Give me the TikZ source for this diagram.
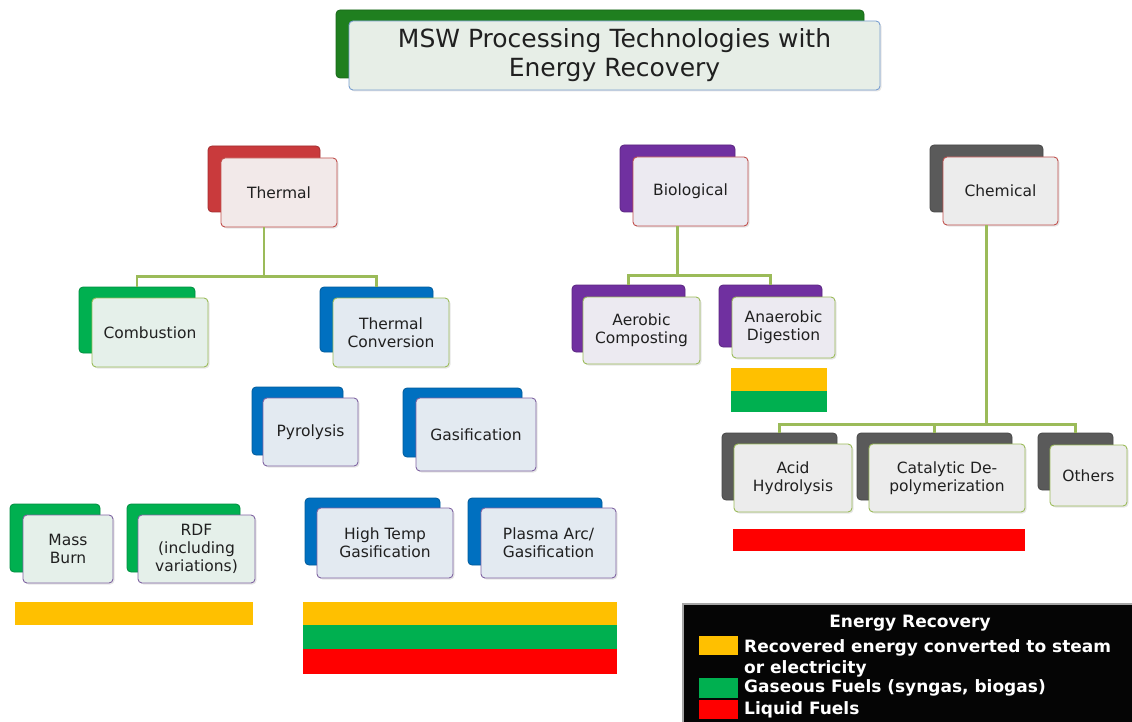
\documentclass[tikz,border=0pt]{standalone}
\usepackage{fontspec}
\setmainfont{DejaVu Sans}
\usetikzlibrary{positioning,shadows}

\definecolor{linkgreen}{HTML}{9BBB59}
\definecolor{titlegreen}{HTML}{1F7F1F}
\definecolor{combgreen}{HTML}{00B050}
\definecolor{thermred}{HTML}{C93A3C}
\definecolor{biopurple}{HTML}{7030A0}
\definecolor{chemgray}{HTML}{5A5A5A}
\definecolor{convblue}{HTML}{0070C0}
\definecolor{edgeblue}{HTML}{7A9FD0}
\definecolor{edgered}{HTML}{C0504D}
\definecolor{edgegreen}{HTML}{9BBB59}
\definecolor{edgepurple}{HTML}{8064A2}
\definecolor{titlefill}{HTML}{E7EEE7}
\definecolor{thermfill}{HTML}{F2E9E9}
\definecolor{biofill}{HTML}{ECEAF1}
\definecolor{chemfill}{HTML}{ECECEC}
\definecolor{combfill}{HTML}{E5F0EA}
\definecolor{convfill}{HTML}{E3EAF1}
\definecolor{textgray}{HTML}{202020}
\definecolor{baryellow}{HTML}{FFC000}
\definecolor{bargreen}{HTML}{00B050}
\definecolor{barred}{HTML}{FF0000}
\definecolor{legblack}{HTML}{050505}

\newcommand{\mswfont}{\fontsize{15.5}{18}\selectfont}
\newcommand{\mswtitlefont}{\fontsize{25}{29}\selectfont}
\newcommand{\mswlegfont}{\fontsize{17}{21}\selectfont\bfseries}

\begin{document}
\begin{tikzpicture}[x=1pt, y=-1pt,
    back/.style={draw=#1!80!black, fill=#1, rounded corners=4pt, line width=0.8pt, inner sep=0pt},
    front/.style 2 args={draw=#1, fill=#2, rounded corners=4pt, line width=0.9pt, inner sep=2pt, align=center, text=textgray, font=\mswfont, drop shadow={shadow xshift=1.5pt, shadow yshift=-1.5pt, opacity=0.2}},
    link/.style={draw=linkgreen, line width=2.8pt},
    bar/.style={fill=#1, inner sep=0pt, outer sep=0pt},
    legtext/.style={text=white, font=\mswlegfont, inner sep=0pt}]

    \useasboundingbox (0,0) rectangle (1132,722);

    \node[back=titlegreen, minimum width=528, minimum height=68] (titleb) at (600,44) {};
    \node[front={edgeblue}{titlefill}, minimum width=531, minimum height=69, font=\mswtitlefont] (title) at (614.5,55.5) {MSW Processing Technologies with\\Energy Recovery};

    \node[back=thermred, minimum width=112, minimum height=66] (thermalb) at (264,179) {};
    \node[front={edgered}{thermfill}, minimum width=116, minimum height=69] (thermal) at (279,192.5) {Thermal};
    \node[back=biopurple, minimum width=115, minimum height=67] (biob) at (677.5,178.5) {};
    \node[front={edgered}{biofill}, minimum width=115, minimum height=69] (bio) at (690.5,191.5) {Biological};
    \node[back=chemgray, minimum width=113, minimum height=67] (chemb) at (986.5,178.5) {};
    \node[front={edgered}{chemfill}, minimum width=115, minimum height=68] (chem) at (1000.5,191) {Chemical};

    \node[back=combgreen, minimum width=116, minimum height=66] (combb) at (137,320) {};
    \node[front={edgegreen}{combfill}, minimum width=116, minimum height=69] (comb) at (150,332.5) {Combustion};
    \node[back=convblue, minimum width=113, minimum height=65] (convb) at (376.5,319.5) {};
    \node[front={edgegreen}{convfill}, minimum width=116, minimum height=69] (conv) at (391,332.5) {Thermal\\Conversion};
    \node[back=biopurple, minimum width=113, minimum height=67] (aerob) at (628.5,318.5) {};
    \node[front={edgegreen}{biofill}, minimum width=117, minimum height=67] (aero) at (641.5,330.5) {Aerobic\\Composting};
    \node[back=biopurple, minimum width=103, minimum height=62] (anaerob) at (770.5,316) {};
    \node[front={edgegreen}{biofill}, minimum width=103, minimum height=61] (anaero) at (783.5,327.5) {Anaerobic\\Digestion};

    \node[back=convblue, minimum width=91, minimum height=68] (pyrob) at (297.5,421) {};
    \node[front={edgepurple}{convfill}, minimum width=95, minimum height=68] (pyro) at (310.5,432) {Pyrolysis};
    \node[back=convblue, minimum width=119, minimum height=69] (gasb) at (462.5,422.5) {};
    \node[front={edgepurple}{convfill}, minimum width=120, minimum height=73] (gas) at (476,434.5) {Gasification};

    \node[back=combgreen, minimum width=90, minimum height=68] (burnb) at (55,538) {};
    \node[front={edgepurple}{combfill}, minimum width=90, minimum height=68] (burn) at (68,549) {Mass\\Burn};
    \node[back=combgreen, minimum width=113, minimum height=68] (rdfb) at (183.5,538) {};
    \node[front={edgepurple}{combfill}, minimum width=117, minimum height=68] (rdf) at (196.5,549) {RDF\\(including\\variations)};
    \node[back=convblue, minimum width=135, minimum height=67] (hightb) at (372.5,531.5) {};
    \node[front={edgepurple}{convfill}, minimum width=136, minimum height=70] (hight) at (385,543) {High Temp\\Gasification};
    \node[back=convblue, minimum width=134, minimum height=67] (plasmab) at (535,531.5) {};
    \node[front={edgepurple}{convfill}, minimum width=135, minimum height=70] (plasma) at (548.5,543) {Plasma Arc/\\Gasification};

    \node[back=chemgray, minimum width=115, minimum height=67] (acidb) at (779.5,466.5) {};
    \node[front={edgegreen}{chemfill}, minimum width=118, minimum height=68] (acid) at (793,478) {Acid\\Hydrolysis};
    \node[back=chemgray, minimum width=155, minimum height=67] (catb) at (934.5,466.5) {};
    \node[front={edgegreen}{chemfill}, minimum width=156, minimum height=68] (cat) at (947,478) {Catalytic De-\\polymerization};
    \node[back=chemgray, minimum width=75, minimum height=57] (othersb) at (1075.5,461.5) {};
    \node[front={edgegreen}{chemfill}, minimum width=77, minimum height=61] (others) at (1088.5,475.5) {Others};

    \draw[link] (thermalb.south |- thermal.south) -- ++(0,49) coordinate (thermalj) -| (combb.north);
    \draw[link] (thermalj) -| (convb.north);
    \draw[link] (biob.south |- bio.south) -- ++(0,49) coordinate (bioj) -| (aerob.north);
    \draw[link] (bioj) -| (anaerob.north);
    \draw[link] (chemb.south |- chem.south) -- ++(0,199) coordinate (chemj) -| (acidb.north);
    \draw[link] (chemj) -| (catb.north);
    \draw[link] (chemj) -| (othersb.north);

    \node[bar=baryellow, minimum width=238, minimum height=23] (burnbar) at (134,613.5) {};
    \node[bar=baryellow, minimum width=314, minimum height=23] (gasbar) at (460,613.5) {};
    \node[bar=bargreen, minimum width=314, minimum height=24, below=0pt of gasbar] (gasbar2) {};
    \node[bar=barred, minimum width=314, minimum height=25, below=0pt of gasbar2] (gasbar3) {};
    \node[bar=baryellow, minimum width=96, minimum height=23] (digbar) at (779,379.5) {};
    \node[bar=bargreen, minimum width=96, minimum height=21, below=0pt of digbar] (digbar2) {};
    \node[bar=barred, minimum width=292, minimum height=22] (chembar) at (879,540) {};

    \node[fill=legblack, draw=gray!70, line width=1.5pt, minimum width=453, minimum height=122, inner sep=0pt] (legend) at (909.5,665) {};
    \node[legtext] (legtitle) at (910,623) {Energy Recovery};
    \node[bar=baryellow, minimum width=39, minimum height=19] (legsw1) at (718.5,645.5) {};
    \node[bar=bargreen, minimum width=39, minimum height=20] (legsw2) at (718.5,688) {};
    \node[bar=barred, minimum width=39, minimum height=19] (legsw3) at (718.5,709.5) {};
    \node[legtext, anchor=north west, align=left] (leg1) at (744,639) {Recovered energy converted to steam\\or electricity};
    \node[legtext, right=6pt of legsw2] (leg2) {Gaseous Fuels (syngas, biogas)};
    \node[legtext, right=6pt of legsw3] (leg3) {Liquid Fuels};

\end{tikzpicture}
\end{document}
